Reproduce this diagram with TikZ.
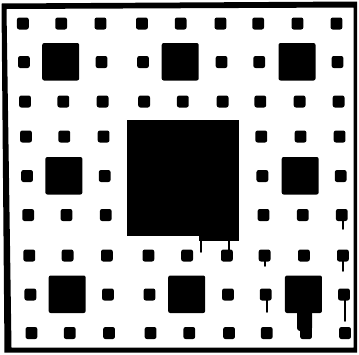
\documentclass[tikz,border=0pt]{standalone}
\begin{document}
\begin{tikzpicture}[x=1pt,y=-1pt,
  smallsq/.style={fill=black,rounded corners=2.2pt},
  medsq/.style={fill=black,rounded corners=2pt},
  drip/.style={line width=1.5pt,line cap=round}]
\useasboundingbox (0,0) rectangle (359,354);
\fill[white] (0,0) rectangle (359,354);
% frame
\fill[black,even odd rule]
  (1.5,3.5) -- (357,1.5) -- (357,352.5) -- (4.5,352.5) -- cycle
  (6.5,9) -- (353.5,7.5) -- (353.5,347.5) -- (11.5,347.5) -- cycle;
\def\CX{{22.2,60.5,99.8,141.3,180,219.8,257.5,296.8,335.8}}
\def\RY{{23.5,62,101.5,136.5,176,215,255.5,294.5,333}}
% small squares
\foreach \i in {0,...,8}{
  \foreach \j in {0,...,8}{
    \pgfmathtruncatemacro\ismed{(mod(\i,3)==1)&&(mod(\j,3)==1)}
    \pgfmathtruncatemacro\isbig{(\i>2)&&(\i<6)&&(\j>2)&&(\j<6)}
    \pgfmathsetmacro\cx{\CX[\i]+0.0278*\RY[\j]}
    \pgfmathsetmacro\cy{\RY[\j]}
    \ifnum\ismed=0 \ifnum\isbig=0
      \fill[smallsq] (\cx-5.9,\cy-6) rectangle (\cx+5.9,\cy+6);
    \fi\fi
  }
}
% medium squares
\foreach \i in {1,4,7}{
  \foreach \j in {1,4,7}{
    \pgfmathtruncatemacro\isbig{(\i==4)&&(\j==4)}
    \pgfmathsetmacro\cx{\CX[\i]+0.0278*\RY[\j]-1.5}
    \pgfmathsetmacro\cy{\RY[\j]}
    \ifnum\isbig=0
      \fill[medsq] (\cx-18.5,\cy-19) rectangle (\cx+18.5,\cy+18.5);
    \fi
  }
}
% large square
\fill[black] (127,120) rectangle (239,235.5);
\fill[black] (199,234) rectangle (239,240.5);
% ink drips
\draw[drip] (201,236) -- (201,252);
\draw[drip] (229,240) -- (229,254);
\draw[drip] (343,220) -- (343,229);
\draw[drip] (265,260) -- (265,266);
\draw[drip] (343,260) -- (343,271);
\draw[drip] (267,299) -- (267,312);
\draw[drip] (345,299) -- (345,321);
\fill[black,rounded corners=3pt] (297,310) rectangle (312,331);
\end{tikzpicture}
\end{document}
